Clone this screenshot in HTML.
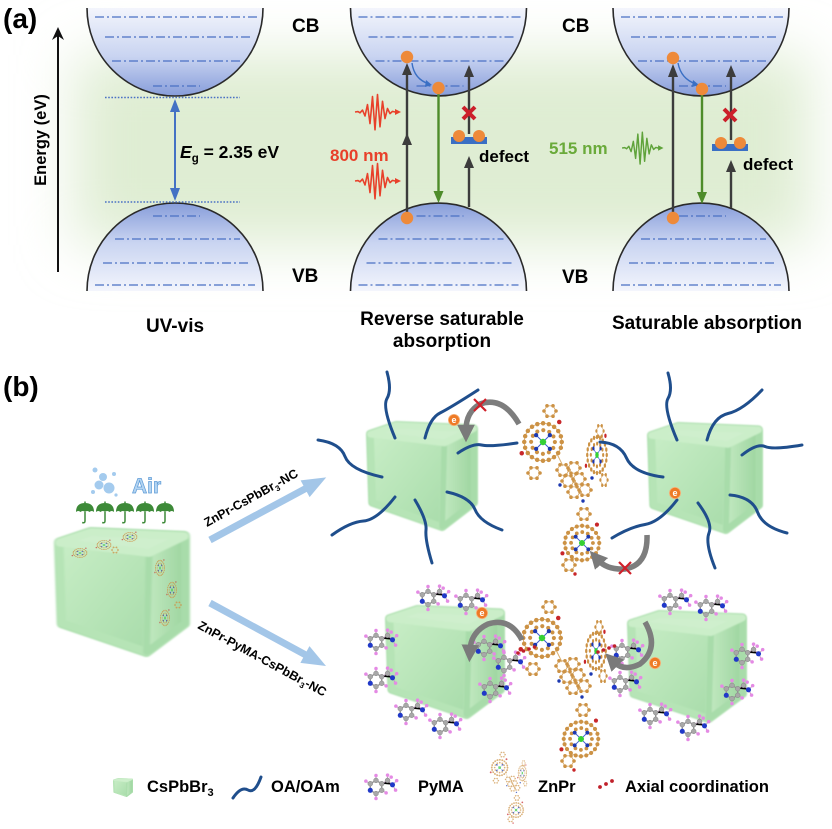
<!DOCTYPE html>
<html><head><meta charset="utf-8"><style>
body{margin:0;background:#fff}svg{display:block}
text{font-family:"Liberation Sans",Arial,sans-serif;font-weight:bold}
</style></head><body>
<svg width="832" height="829" viewBox="0 0 832 829" xmlns="http://www.w3.org/2000/svg">
<defs>
<filter id="bl" x="-50%" y="-80%" width="200%" height="260%"><feGaussianBlur stdDeviation="28"/></filter>
<filter id="soft" x="-10%" y="-10%" width="120%" height="120%"><feGaussianBlur stdDeviation="0.7"/></filter>
<linearGradient id="gcb" x1="0" y1="0" x2="0" y2="1"><stop offset="0" stop-color="#f3f5fc"/><stop offset="0.55" stop-color="#c9d4f1"/><stop offset="1" stop-color="#879dda"/></linearGradient>
<linearGradient id="gvb" x1="0" y1="0" x2="0" y2="1"><stop offset="0" stop-color="#879dda"/><stop offset="0.45" stop-color="#c9d4f1"/><stop offset="1" stop-color="#f3f5fc"/></linearGradient>
<linearGradient id="cf" x1="0" y1="0" x2="1" y2="1"><stop offset="0" stop-color="#c8edc6"/><stop offset="1" stop-color="#a8dcaa"/></linearGradient>
<linearGradient id="cr" x1="0" y1="0" x2="1" y2="0"><stop offset="0" stop-color="#c2e9c1"/><stop offset="1" stop-color="#9dd59f"/></linearGradient>
<marker id="ga" viewBox="0 0 10 10" refX="3" refY="5" markerWidth="3.2" markerHeight="3.2" orient="auto"><path d="M0,0 L10,5 L0,10 z" fill="#7a7a7a"/></marker>
<g id="pulse" fill="none" stroke="currentColor" stroke-width="1.6" stroke-linejoin="round">
<polyline points="-21,0 -18,-0.4 -16,0.8 -13.5,-1.9 -11,4 -8.5,-7.4 -6,11.6 -3.5,-15.5 -1,17.8 1.5,-17.5 4,14.8 6.5,-10.7 9,6.6 11.5,-3.5 14,1.6 16.5,-0.6 19,0 22,0"/>
<polygon points="19,-3 25,0 19,3" fill="currentColor" stroke="none"/>
</g>
<g id="cube" filter="url(#soft)">
<polygon points="4,12 27,4 96,7 96,74 68,96 6,74" fill="#acdfad" stroke="#acdfad" stroke-width="8" stroke-linejoin="round"/>
<polygon points="4,12 70,20 68,96 6,74" fill="url(#cf)" stroke="#b6e4b6" stroke-width="6" stroke-linejoin="round"/>
<polygon points="70,20 96,7 96,74 68,96" fill="url(#cr)" stroke="#a8dcaa" stroke-width="5" stroke-linejoin="round"/>
<polygon points="4,12 27,4 96,7 70,20" fill="#cfefcd" stroke="#cbeec9" stroke-width="6" stroke-linejoin="round"/>
</g>
<g id="hex"><polygon points="6,0 3,5.2 -3,5.2 -6,0 -3,-5.2 3,-5.2" fill="none" stroke="#d8ae70" stroke-width="0.9"/>
<g fill="#cc9245"><circle cx="6" cy="0" r="1.8"/><circle cx="3" cy="5.2" r="1.8"/><circle cx="-3" cy="5.2" r="1.8"/><circle cx="-6" cy="0" r="1.8"/><circle cx="-3" cy="-5.2" r="1.8"/><circle cx="3" cy="-5.2" r="1.8"/></g></g>
<g id="por">
<circle r="15" fill="none" stroke="#dcb57d" stroke-width="0.8"/>
<circle r="15" fill="none" stroke="#cc9245" stroke-width="3.6" stroke-linecap="round" stroke-dasharray="0 4.71"/>
<circle r="9.5" fill="none" stroke="#cc9245" stroke-width="3.3" stroke-linecap="round" stroke-dasharray="0 4.97"/>
<path d="M-5.5,-5.5L5.5,5.5M5.5,-5.5L-5.5,5.5" stroke="#3a5ad0" stroke-width="0.8"/>
<g fill="#1c38b0"><circle cx="-5.5" cy="-5.5" r="1.7"/><circle cx="5.5" cy="-5.5" r="1.7"/><circle cx="-5.5" cy="5.5" r="1.7"/><circle cx="5.5" cy="5.5" r="1.7"/></g>
<circle r="2.6" fill="#35d035"/>
<circle cx="-17" cy="9" r="1.8" fill="#c8262a"/><circle cx="13" cy="-16" r="1.8" fill="#c8262a"/>
</g>
<g id="zn">
<line x1="556" y1="452" x2="563" y2="466" stroke="#d8ae70" stroke-width="1"/>
<use href="#hex" transform="translate(550,411)"/>
<use href="#hex" transform="translate(534,473)"/>
<use href="#por" transform="translate(543,442) scale(1.25)"/>
<use href="#hex" transform="translate(563,470)"/>
<use href="#hex" transform="translate(574,468)"/>
<use href="#hex" transform="translate(568,481)"/>
<use href="#hex" transform="translate(579,479)"/>
<use href="#hex" transform="translate(574,492)"/>
<use href="#hex" transform="translate(585,490)"/>
<use href="#hex" transform="translate(584,514)"/>
<circle cx="560" cy="485" r="1.7" fill="#1c38b0"/><circle cx="583" cy="501" r="1.7" fill="#1c38b0"/><circle cx="592" cy="478" r="1.7" fill="#1c38b0"/>
<use href="#por" transform="translate(597,455) scale(0.65,1.2)"/>
<use href="#hex" transform="translate(600,431) scale(0.6,1)"/>
<use href="#hex" transform="translate(604,480) scale(0.6,1)"/>
<use href="#por" transform="translate(582,543) scale(1.15)"/>
<use href="#hex" transform="translate(569,565)"/>
<circle cx="575" cy="574" r="1.7" fill="#c8262a"/>
</g>
<g id="py0">
<polygon points="5.2,3 0,6 -5.2,3 -5.2,-3 0,-6 5.2,-3" fill="none" stroke="#9a9a9a" stroke-width="1.3"/>
<path d="M5.2,-3 L10.5,-6 L15,-2 M0,6 L0,10 M-5.2,-3 L-9,-5.2 M0,-6 L0,-10 M5.2,3 L9,5.2 M15,-2 L18.5,-5.5 M15,-2 L17.5,2.5 M10.5,-6 L10.5,-10.5" stroke="#c0a0c0" stroke-width="0.9"/>
<g fill="#a8a8a8" stroke="#7c7c7c" stroke-width="0.4"><circle cx="5.2" cy="3" r="2.2"/><circle cx="0" cy="6" r="2.2"/><circle cx="-5.2" cy="-3" r="2.2"/><circle cx="0" cy="-6" r="2.2"/><circle cx="5.2" cy="-3" r="2.2"/><circle cx="10.5" cy="-6" r="2.2"/></g>
<circle cx="-5.2" cy="3" r="2.3" fill="#2038c8"/><circle cx="15" cy="-2" r="2.3" fill="#2038c8"/>
<g fill="#e48ae4"><circle cx="0" cy="10.5" r="1.6"/><circle cx="-9.2" cy="-5.3" r="1.6"/><circle cx="0" cy="-10.5" r="1.6"/><circle cx="9.2" cy="5.3" r="1.6"/><circle cx="18.8" cy="-5.8" r="1.6"/><circle cx="17.8" cy="2.8" r="1.6"/><circle cx="10.5" cy="-10.8" r="1.6"/><circle cx="13.8" cy="-9" r="1.6"/></g>
</g>
<g id="py"><use href="#py0" transform="scale(1.1)"/></g>
<g id="umb"><path d="M-9,0 Q-9,-9 0,-9 Q9,-9 9,0 Q6.8,-2 4.5,0 Q2.2,-2 0,0 Q-2.2,-2 -4.5,0 Q-6.8,-2 -9,0 Z" fill="#3d8a38"/><path d="M0,-9 L0,-10.5 M0,0 L0,9 Q0,11.5 -2.8,10.5" fill="none" stroke="#3d8a38" stroke-width="1.5"/></g>
<g id="el"><circle r="5.6" fill="#ee7a26" stroke="#f6b27a" stroke-width="0.8"/><text y="3" text-anchor="middle" font-size="9" fill="#fff" font-weight="normal">e</text></g>
</defs>

<!-- ========== (a) ========== -->
<rect x="75" y="55" width="735" height="190" fill="#dfedd3" filter="url(#bl)"/>

<text x="3" y="28" font-size="28">(a)</text>
<line x1="58" y1="272" x2="58" y2="34" stroke="#111" stroke-width="2"/>
<polygon points="52,40 58,27 64,40 58,36" fill="#111"/>
<text transform="translate(46,140) rotate(-90)" text-anchor="middle" font-size="16.5">Energy (eV)</text>

<g>
<path d="M87,8 A88,88 0 0 0 263,8 Z" fill="url(#gcb)"/>
<path d="M350.5,8 A88,88 0 0 0 526.5,8 Z" fill="url(#gcb)"/>
<path d="M613,8 A88,88 0 0 0 789,8 Z" fill="url(#gcb)"/>
<path d="M87,291 A88,88 0 0 1 263,291 Z" fill="url(#gvb)"/>
<path d="M350.5,291 A88,88 0 0 1 526.5,291 Z" fill="url(#gvb)"/>
<path d="M613,291 A88,88 0 0 1 789,291 Z" fill="url(#gvb)"/>
</g>
<g stroke="#4a70c4" stroke-width="1.3" stroke-dasharray="9 3 2 3" fill="none">
<path d="M95,17H257M105,37H250M112,61H240M153,86H200M153,216H200M115,239H240M103,263H248M95,285H255"/>
<path d="M358.5,17H520.5M368.5,37H513.5M375.5,61H503.5M416.5,86H463.5M416.5,216H463.5M378.5,239H503.5M366.5,263H511.5M358.5,285H518.5"/>
<path d="M621,17H783M631,37H776M638,61H766M679,86H726M679,216H726M641,239H766M629,263H774M621,285H781"/>
</g>
<g fill="none" stroke="#2a2a2a" stroke-width="1.6">
<path d="M87,8 A88,88 0 0 0 263,8"/><path d="M350.5,8 A88,88 0 0 0 526.5,8"/><path d="M613,8 A88,88 0 0 0 789,8"/>
<path d="M87,291 A88,88 0 0 1 263,291"/><path d="M350.5,291 A88,88 0 0 1 526.5,291"/><path d="M613,291 A88,88 0 0 1 789,291"/>
</g>

<g stroke="#4a70c4" stroke-width="1.6" stroke-dasharray="1.6 1.6"><line x1="105" y1="97.5" x2="240" y2="97.5"/><line x1="105" y1="202" x2="240" y2="202"/></g>
<line x1="175" y1="106" x2="175" y2="194" stroke="#4472c4" stroke-width="2"/>
<polygon points="170,112 175,99 180,112" fill="#4472c4"/><polygon points="170,188 175,201 180,188" fill="#4472c4"/>
<text x="180" y="158" font-size="17.5"><tspan font-style="italic">E</tspan><tspan font-size="11.5" dy="4">g</tspan><tspan dy="-4"> = 2.35 eV</tspan></text>
<text x="175" y="332" font-size="19" text-anchor="middle">UV-vis</text>

<text x="292" y="32" font-size="19">CB</text><text x="292" y="282" font-size="19">VB</text>
<text x="562" y="32" font-size="19">CB</text><text x="562" y="283" font-size="19">VB</text>

<g stroke="#3c3c3c" stroke-width="2.4">
<line x1="407" y1="212" x2="407" y2="70"/>
<line x1="469" y1="207" x2="469" y2="164"/>
<line x1="469" y1="134" x2="469" y2="72"/>
</g>
<g fill="#3c3c3c">
<polygon points="402,145 407,133 412,145"/><polygon points="402,75 407,63 412,75"/>
<polygon points="464,168 469,156 474,168"/><polygon points="464,77 469,65 474,77"/>
</g>
<line x1="438.5" y1="94" x2="438.5" y2="194" stroke="#4e8c2a" stroke-width="2.4"/>
<polygon points="433.5,191 438.5,203 443.5,191" fill="#4e8c2a"/>
<path d="M412,63 Q414,79 429,84" fill="none" stroke="#3a6fc4" stroke-width="1.4"/><polygon points="426,80 432,85 425,87" fill="#3a6fc4"/>
<g fill="#ee8a3a"><circle cx="407" cy="57" r="6.2"/><circle cx="438.5" cy="88" r="6.2"/><circle cx="407" cy="218" r="6.2"/></g>
<rect x="451" y="137" width="36" height="7" fill="#3a6fc4"/>
<g fill="#ee8a3a"><circle cx="459" cy="136" r="6"/><circle cx="479" cy="136" r="6"/></g>
<path d="M463,107 L475,119 M475,107 L463,119" stroke="#cc1f2a" stroke-width="4"/>
<use href="#pulse" transform="translate(376,112)" style="color:#e8402a"/>
<use href="#pulse" transform="translate(376,181)" style="color:#e8402a"/>
<text x="330" y="161" font-size="17" fill="#e8402a">800 nm</text>
<text x="479" y="162" font-size="17">defect</text>
<text x="442" y="325" font-size="19" text-anchor="middle">Reverse saturable</text>
<text x="442" y="347" font-size="19" text-anchor="middle">absorption</text>

<g stroke="#3c3c3c" stroke-width="2.4">
<line x1="673" y1="212" x2="673" y2="72"/>
<line x1="731" y1="208" x2="731" y2="169"/>
<line x1="731" y1="140" x2="731" y2="72"/>
</g>
<g fill="#3c3c3c">
<polygon points="668,77 673,64 678,77"/>
<polygon points="726,172 731,160 736,172"/><polygon points="726,77 731,65 736,77"/>
</g>
<line x1="702" y1="95" x2="702" y2="195" stroke="#4e8c2a" stroke-width="2.4"/>
<polygon points="697,192 702,204 707,192" fill="#4e8c2a"/>
<path d="M678,63 Q681,79 696,84" fill="none" stroke="#3a6fc4" stroke-width="1.4"/><polygon points="693,80 699,85 692,87" fill="#3a6fc4"/>
<g fill="#ee8a3a"><circle cx="673" cy="58" r="6.2"/><circle cx="702" cy="89" r="6.2"/><circle cx="673" cy="218" r="6.2"/></g>
<rect x="712" y="144" width="36" height="7" fill="#3a6fc4"/>
<g fill="#ee8a3a"><circle cx="721" cy="143" r="6"/><circle cx="740" cy="143" r="6"/></g>
<path d="M724,109 L736,121 M736,109 L724,121" stroke="#cc1f2a" stroke-width="4"/>
<use href="#pulse" transform="translate(641,148) scale(0.9)" style="color:#5fa33a"/>
<text x="549" y="154" font-size="17" fill="#6aaa3a">515 nm</text>
<text x="743" y="170" font-size="17">defect</text>
<text x="707" y="329" font-size="19" text-anchor="middle">Saturable absorption</text>

<!-- ========== (b) ========== -->
<text x="3" y="396" font-size="28">(b)</text>

<use href="#cube" transform="translate(54,527) scale(1.36,1.3)"/>
<g opacity="0.75">
<use href="#por" transform="translate(80,553) scale(0.45,0.3)"/>
<use href="#por" transform="translate(104,545) scale(0.45,0.3)"/>
<use href="#por" transform="translate(130,537) scale(0.45,0.3)"/>
<use href="#hex" transform="translate(115,550) scale(0.5)"/>
<use href="#por" transform="translate(160,568) scale(0.3,0.5)"/>
<use href="#por" transform="translate(172,590) scale(0.3,0.5)"/>
<use href="#por" transform="translate(165,618) scale(0.3,0.5)"/>
<use href="#hex" transform="translate(178,605) scale(0.5)"/>
</g>
<use href="#umb" transform="translate(85,512)"/><use href="#umb" transform="translate(105,512)"/><use href="#umb" transform="translate(125,512)"/><use href="#umb" transform="translate(145,512)"/><use href="#umb" transform="translate(165,512)"/>
<g fill="#a4cbee"><circle cx="95" cy="470" r="2.5"/><circle cx="103" cy="477" r="4"/><circle cx="99" cy="485" r="4.5"/><circle cx="109" cy="488" r="5.5"/><circle cx="114" cy="474" r="2"/><circle cx="93" cy="492" r="2"/><circle cx="116" cy="495" r="1.6"/></g>
<text x="132" y="493" font-size="21" fill="#b3d4f2" stroke="#5e9bd6" stroke-width="0.7">Air</text>

<g fill="#a3c6e8">
<g transform="translate(210,540) rotate(-28.3)"><rect x="0" y="-3.5" width="112" height="7"/><polygon points="108,-9.5 132,0 108,9.5"/></g>
<g transform="translate(210,603) rotate(28.5)"><rect x="0" y="-3.5" width="112" height="7"/><polygon points="108,-9.5 132,0 108,9.5"/></g>
</g>
<text transform="translate(207,527) rotate(-29)" font-size="12.5">ZnPr-CsPbBr<tspan font-size="8" dy="3">3</tspan><tspan dy="-3">-NC</tspan></text>
<text transform="translate(197,628) rotate(28.5)" font-size="12.5">ZnPr-PyMA-CsPbBr<tspan font-size="8" dy="3">3</tspan><tspan dy="-3">-NC</tspan></text>

<use href="#cube" transform="translate(366,421) scale(1.12,1.1)"/>
<use href="#cube" transform="translate(647,422) scale(1.16,1.12)"/>
<use href="#zn"/>
<g fill="none" stroke="#1f4e8c" stroke-width="3" stroke-linecap="round">
<path d="M387,372 Q392,390 387,398.5 T395,438"/>
<path d="M425,438 Q430,418 440,413 T478,390"/>
<path d="M318,440 Q340,443 345,456.5 T382,477"/>
<path d="M458,453 Q473,443 481.5,445 T517,443"/>
<path d="M332,535 Q350,522 363.5,521 T395,497"/>
<path d="M415,500 Q427,520 426,530 T432,563"/>
<path d="M447,492 Q470,497 475,509.5 T502,530"/>
<path d="M668,373 Q673,390 668,398.5 T677,440"/>
<path d="M707,440 Q713,417 728,413.5 T762,390"/>
<path d="M600,442 Q620,443 626.5,458 T663,477"/>
<path d="M742,455 Q757,443 765,446.5 T802,445"/>
<path d="M612,538 Q630,527 645,524.5 T677,500"/>
<path d="M698,503 Q713,523 709,533 T715,568"/>
<path d="M730,495 Q752,497 757.5,512 T787,533"/>
</g>
<g fill="none" stroke="#7d7d7d" stroke-width="5.5">
<path d="M519,424 Q503,396 480,404 Q466,412 466,430" marker-end="url(#ga)"/>
<path d="M647,535 Q648,565 625,569 Q607,570 598,560" marker-end="url(#ga)"/>
</g>
<g stroke="#d0202a" stroke-width="2.2"><path d="M474,399 L486,411 M486,399 L474,411"/><path d="M619,562 L631,574 M631,562 L619,574"/></g>
<use href="#el" transform="translate(454,420)"/>
<use href="#el" transform="translate(675,493)"/>

<use href="#cube" transform="translate(385,605) scale(1.2,1.14)"/>
<use href="#cube" transform="translate(627,610) scale(1.2,1.13)"/>
<use href="#zn" transform="translate(-1,196)"/>
<g>
<use href="#py" transform="translate(428,598)"/>
<use href="#py" transform="translate(466,602)"/>
<use href="#py" transform="translate(376,642)"/>
<use href="#py" transform="translate(484,648)"/>
<use href="#py" transform="translate(504,664)"/>
<use href="#py" transform="translate(376,680)"/>
<use href="#py" transform="translate(490,690)"/>
<use href="#py" transform="translate(406,712)"/>
<use href="#py" transform="translate(440,726)"/>
<use href="#py" transform="translate(670,602)"/>
<use href="#py" transform="translate(706,608)"/>
<use href="#py" transform="translate(622,652)"/>
<use href="#py" transform="translate(620,684)"/>
<use href="#py" transform="translate(742,656)"/>
<use href="#py" transform="translate(732,692)"/>
<use href="#py" transform="translate(650,716)"/>
<use href="#py" transform="translate(688,728)"/>
</g>
<g fill="#c0202a"><circle cx="518" cy="653" r="1.8"/><circle cx="523.5" cy="651" r="1.8"/><circle cx="529" cy="649" r="1.8"/><circle cx="534.5" cy="647" r="1.8"/>
<circle cx="598" cy="652" r="1.8"/><circle cx="603.5" cy="650" r="1.8"/><circle cx="609" cy="648" r="1.8"/><circle cx="614.5" cy="646" r="1.8"/></g>
<g fill="none" stroke="#7d7d7d" stroke-width="5.5">
<path d="M522,640 Q510,617 488,624 Q471,632 470,650" marker-end="url(#ga)"/>
<path d="M645,622 Q660,648 640,664 Q624,672 614,662" marker-end="url(#ga)"/>
</g>
<use href="#el" transform="translate(482,613)"/>
<use href="#el" transform="translate(655,663)"/>

<use href="#cube" transform="translate(113,778) scale(0.2,0.19)"/>
<text x="147" y="792" font-size="16.5">CsPbBr<tspan font-size="11" dy="4">3</tspan></text>
<path d="M233,798 Q241,786 248,790 T261,777" fill="none" stroke="#1f4e8c" stroke-width="3" stroke-linecap="round"/>
<text x="271" y="792" font-size="16.5">OA/OAm</text>
<use href="#py" transform="translate(376,787)"/>
<text x="418" y="792" font-size="16.5">PyMA</text>
<use href="#zn" transform="translate(490,750) scale(0.42) translate(-520,-400)" opacity="0.7"/>
<text x="538" y="792" font-size="16.5">ZnPr</text>
<g fill="#c0202a"><circle cx="600" cy="787" r="1.9"/><circle cx="606" cy="784" r="1.9"/><circle cx="612" cy="781" r="1.9"/></g>
<text x="625" y="792" font-size="16.5">Axial coordination</text>
</svg>
</body></html>
